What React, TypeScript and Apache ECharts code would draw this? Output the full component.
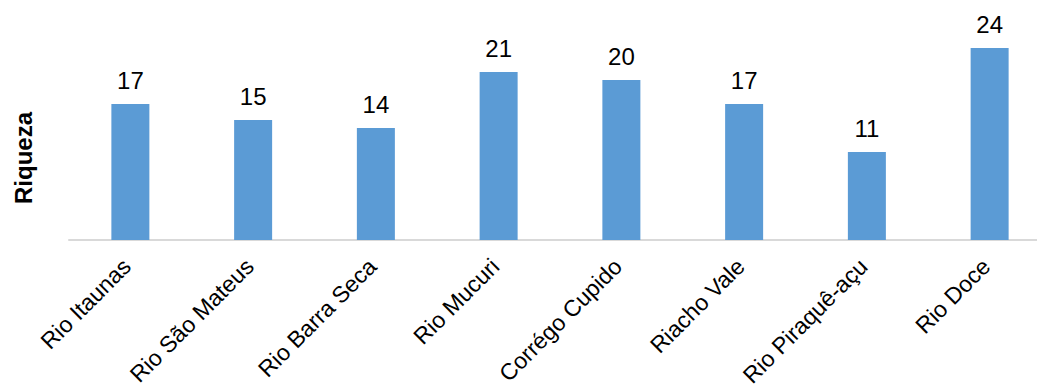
import React, { useEffect, useRef } from "react";
import * as echarts from "echarts";

const categories = [
  "Rio Itaunas",
  "Rio São Mateus",
  "Rio Barra Seca",
  "Rio Mucuri",
  "Corrégo Cupido",
  "Riacho Vale",
  "Rio Piraquê-açu",
  "Rio Doce",
];
const riqueza = [17, 15, 14, 21, 20, 17, 11, 24];
const yAxisTitle = "Riqueza";

const FONT = "'Liberation Sans', Arial, sans-serif";

export default function App() {
  const ref = useRef<HTMLDivElement>(null);
  useEffect(() => {
    if (!ref.current) return;
    const chart = echarts.init(ref.current, undefined, { renderer: "svg" });
    chart.setOption({
      animation: false,
      backgroundColor: "#ffffff",
      textStyle: { fontFamily: FONT },
      grid: {
        left: 69,
        top: 0,
        width: 982,
        height: 240,
        containLabel: false,
        outerBoundsMode: "none",
      },
      xAxis: {
        type: "category",
        data: categories,
        boundaryGap: true,
        axisLine: { show: true, lineStyle: { color: "#d9d9d9", width: 2 } },
        axisTick: { show: false },
        axisLabel: {
          interval: 0,
          rotate: 45,
          fontSize: 23,
          color: "#000000",
          fontFamily: FONT,
          margin: 19,
          padding: [0, 5, 0, 0],
        },
      },
      yAxis: {
        type: "value",
        min: 0,
        max: 30,
        show: false,
        splitLine: { show: false },
      },
      graphic: [
        {
          type: "text",
          x: 23,
          y: 158,
          rotation: Math.PI / 2,
          style: {
            text: yAxisTitle,
            fontSize: 24,
            fontWeight: "bold",
            fontFamily: FONT,
            fill: "#000000",
            textAlign: "center",
            textVerticalAlign: "middle",
          },
        },
      ],
      series: [
        {
          type: "bar",
          data: riqueza,
          barWidth: 38,
          itemStyle: { color: "#5b9bd5" },
          label: {
            show: true,
            position: "top",
            distance: 12,
            fontSize: 24,
            color: "#000000",
            fontFamily: FONT,
          },
        },
      ],
    });
    return () => chart.dispose();
  }, []);
  return (
    <div
      style={{
        position: "fixed",
        left: 0,
        top: 0,
        width: 1037,
        height: 391,
        overflow: "hidden",
        background: "#ffffff",
      }}
    >
      <div ref={ref} style={{ width: 1070, height: 391 }} />
    </div>
  );
}
